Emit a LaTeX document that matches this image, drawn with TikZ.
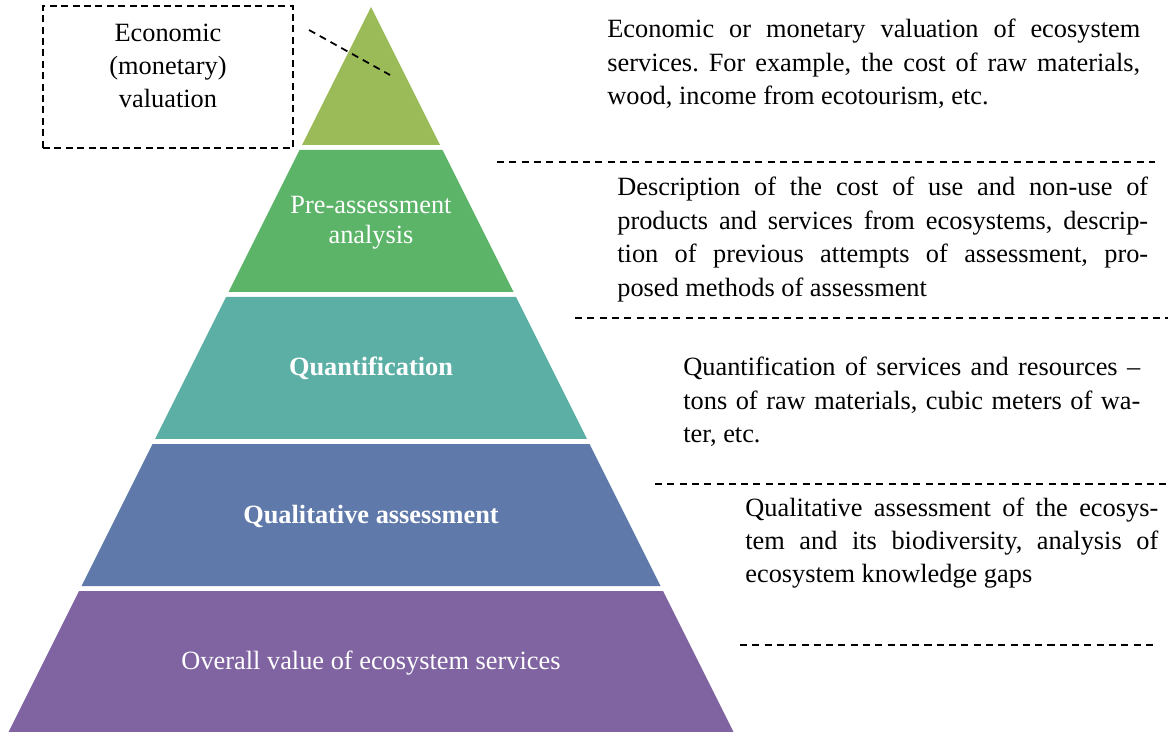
\documentclass[tikz,border=0pt]{standalone}
\usepackage{fontspec}
\setmainfont{Liberation Serif}
\usepackage{tikz}
\usetikzlibrary{positioning}
\frenchspacing
\definecolor{lvlone}{HTML}{9BBB59}
\definecolor{lvltwo}{HTML}{5BB467}
\definecolor{lvlthree}{HTML}{5BAFA5}
\definecolor{lvlfour}{HTML}{5F7AAA}
\definecolor{lvlfive}{HTML}{8064A2}
\tikzstyle{layer} = [text=white, align=center, font=\fontsize{15}{17}\selectfont]
\tikzstyle{boldlayer} = [layer, font=\fontsize{15}{17}\selectfont\bfseries]
\tikzstyle{desc} = [anchor=base west, align=justify, inner sep=0pt, font=\fontsize{15}{19}\selectfont]
\tikzstyle{valbox} = [rectangle, draw=black, line width=1pt, dash pattern=on 4pt off 2.5pt,
                      minimum width=5cm, minimum height=2.84cm]
\tikzstyle{sepline} = [line width=0.8pt, dash pattern=on 4pt off 3pt]
\tikzstyle{leader} = [line width=1pt, dash pattern=on 4pt off 3pt]

\begin{document}
\begin{tikzpicture}[x=0.02cm, y=-0.02cm]
            \useasboundingbox (0,0) rectangle (1168,732);

            % Pyramid
            \fill[lvlone] (371,7) -- (440,145) -- (302,145) -- cycle;
            \foreach \ytop/\ybot/\col in {150/292/lvltwo, 297/439/lvlthree, 444/586/lvlfour, 591/732/lvlfive}
                \fill[\col] ({371-0.5*(\ytop-7)},\ytop) -- ({371+0.5*(\ytop-7)},\ytop)
                    -- ({371+0.5*(\ybot-7)},\ybot) -- ({371-0.5*(\ybot-7)},\ybot) -- cycle;

            % Nodes
            \node (preass) [layer] at (371,223) {Pre-assessment\\analysis};
            \node (quant) [boldlayer] at (371,368) {Quantification};
            \node (qualit) [boldlayer] at (371,516) {Qualitative assessment};
            \node (overall) [layer] at (371,663) {Overall value of ecosystem services};

            \node (econbox) [valbox] at (168,77) {};
            \node (econlbl) [align=center, font=\fontsize{15}{19}\selectfont] at (168,66) {Economic\\(monetary)\\valuation};

            \node (descval) [desc, text width=10.66cm] at (607,38) {Economic or monetary valuation of ecosystem\linebreak
                services. For example, the cost of raw materials,\linebreak wood, income from ecotourism, etc.};
            \node (descpre) [desc, text width=10.62cm] at (617,196) {Description of the cost of use and non-use of\linebreak
                products and services from ecosystems, descrip-\linebreak tion of previous attempts of assessment, pro-\linebreak
                posed methods of assessment};
            \node (descquant) [desc, text width=9.14cm] at (683,376) {Quantification of services and resources --\linebreak
                tons of raw materials, cubic meters of wa-\linebreak ter, etc.};
            \node (descqual) [desc, text width=8.26cm] at (745,516) {Qualitative assessment of the ecosys-\linebreak
                tem and its biodiversity, analysis of\linebreak ecosystem knowledge gaps};

            % Dashed lines
            \coordinate (leadA) at (309,30);
            \coordinate (leadB) at (390,75);
            \draw [leader] (leadA) -- (leadB);

            \coordinate (sepAl) at (497,162);
            \coordinate (sepAr) at (1155,162);
            \coordinate (sepBl) at (575,318);
            \coordinate (sepBr) at (1168,318);
            \coordinate (sepCl) at (655,484);
            \coordinate (sepCr) at (1168,484);
            \coordinate (sepDl) at (740,645);
            \coordinate (sepDr) at (1155,645);
            \draw [sepline] (sepAl) -- (sepAr);
            \draw [sepline] (sepBl) -- (sepBr);
            \draw [sepline] (sepCl) -- (sepCr);
            \draw [sepline] (sepDl) -- (sepDr);
        \end{tikzpicture}
\end{document}
